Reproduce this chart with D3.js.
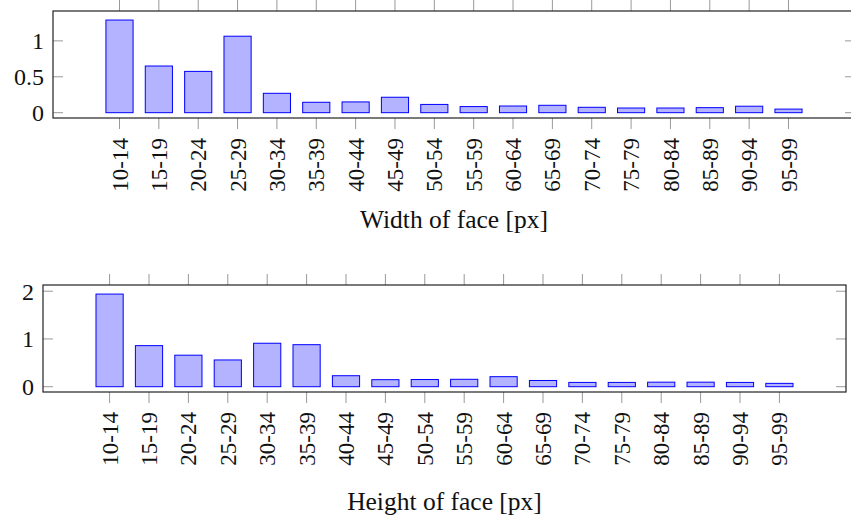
<!DOCTYPE html>
<html>
<head>
<meta charset="utf-8">
<script src="https://cdn.jsdelivr.net/npm/d3@7"></script>
<style>
  body { margin: 0; background: #fff; }
  text { font-family: "Liberation Serif", "Times New Roman", serif; fill: #111; }
</style>
</head>
<body>
<div id="chart"></div>
<script>
// face size bins (px)
const bins = ['10-14', '15-19', '20-24', '25-29', '30-34', '35-39', '40-44', '45-49', '50-54',
  '55-59', '60-64', '65-69', '70-74', '75-79', '80-84', '85-89', '90-94', '95-99'];

// share per bin
const widthValues = [1.29, 0.65, 0.575, 1.065, 0.27, 0.145, 0.15, 0.215, 0.115,
  0.085, 0.093, 0.103, 0.075, 0.065, 0.065, 0.07, 0.09, 0.05];
const heightValues = [1.94, 0.86, 0.66, 0.56, 0.91, 0.88, 0.23, 0.147, 0.15,
  0.155, 0.21, 0.13, 0.09, 0.09, 0.095, 0.095, 0.09, 0.07];

const widthTicks = [0, 0.5, 1];
const heightTicks = [0, 1, 2];

const svg = d3.select('#chart')
  .append('svg')
  .attr('width', 851)
  .attr('height', 515);

function panel(opts) {
  const { values, ticks, yDomain, box, title, titleY } = opts;

  const g = svg.append('g');

  const x = d3.scalePoint()
    .domain(bins)
    .range([box.left, box.right])
    .padding(1.69);

  const y = d3.scaleLinear()
    .domain(yDomain)
    .range([box.bottom, box.top]);

  const barW = x.step() * 0.69;

  // bars
  g.selectAll('rect.bar')
    .data(bins)
    .join('rect')
    .attr('class', 'bar')
    .attr('x', d => x(d) - barW / 2)
    .attr('y', (d, i) => y(values[i]))
    .attr('width', barW)
    .attr('height', (d, i) => y(0) - y(values[i]))
    .attr('fill', '#b3b3ff')
    .attr('stroke', '#0000ff')
    .attr('stroke-width', 1);

  // x ticks, outside on top and bottom
  const tickLen = 11;
  bins.forEach(b => {
    g.append('line')
      .attr('x1', x(b)).attr('x2', x(b))
      .attr('y1', box.top - tickLen).attr('y2', box.top)
      .attr('stroke', '#999').attr('stroke-width', 1);
    g.append('line')
      .attr('x1', x(b)).attr('x2', x(b))
      .attr('y1', box.bottom).attr('y2', box.bottom + tickLen)
      .attr('stroke', '#999').attr('stroke-width', 1);
  });

  // x tick labels, rotated
  g.selectAll('text.xl')
    .data(bins)
    .join('text')
    .attr('class', 'xl')
    .attr('transform', d => `translate(${x(d)},${box.bottom + 20}) rotate(-90)`)
    .attr('text-anchor', 'end')
    .attr('dy', '0.35em')
    .style('font-size', '23px')
    .text(d => d);

  // y ticks, inside on left and right
  ticks.forEach(t => {
    g.append('line')
      .attr('x1', box.left).attr('x2', box.left + 10)
      .attr('y1', y(t)).attr('y2', y(t))
      .attr('stroke', '#999');
    g.append('line')
      .attr('x1', box.right - 10).attr('x2', box.right)
      .attr('y1', y(t)).attr('y2', y(t))
      .attr('stroke', '#999');
    g.append('text')
      .attr('x', box.left - 9)
      .attr('y', y(t))
      .attr('dy', '0.35em')
      .attr('text-anchor', 'end')
      .style('font-size', '24px')
      .text(t);
  });

  // frame
  g.append('rect')
    .attr('x', box.left)
    .attr('y', box.top)
    .attr('width', box.right - box.left)
    .attr('height', box.bottom - box.top)
    .attr('fill', 'none')
    .attr('stroke', '#222')
    .attr('stroke-width', 1.2);

  g.append('text')
    .attr('x', (box.left + box.right) / 2)
    .attr('y', titleY)
    .attr('text-anchor', 'middle')
    .style('font-size', '25.5px')
    .text(title);
}

panel({
  values: widthValues,
  ticks: widthTicks,
  yDomain: [-0.074, 1.416],
  box: { left: 53, right: 855, top: 11, bottom: 118 },
  title: 'Width of face [px]',
  titleY: 228
});

panel({
  values: heightValues,
  ticks: heightTicks,
  yDomain: [-0.111, 2.13],
  box: { left: 43, right: 846, top: 285, bottom: 392 },
  title: 'Height of face [px]',
  titleY: 510
});
</script>
</body>
</html>
